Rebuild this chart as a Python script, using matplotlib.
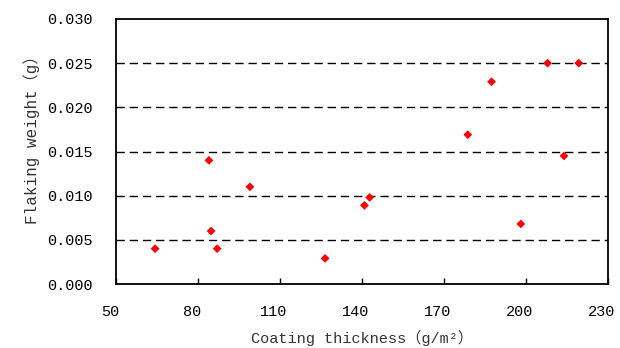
import matplotlib
matplotlib.use("Agg")
import matplotlib.pyplot as plt
import matplotlib.transforms as mtransforms
from matplotlib.ticker import MultipleLocator, FormatStrFormatter

# coating thickness (g/m2) and flaking weight (g)
thickness = [64.3, 84.0, 84.8, 87.0, 99.0, 126.5, 140.9, 142.8,
             178.7, 187.4, 198.1, 207.9, 213.9, 219.3]
flaking = [0.0040, 0.0140, 0.0060, 0.0040, 0.0110, 0.0029, 0.0089, 0.0098,
           0.0169, 0.0229, 0.0068, 0.0250, 0.0145, 0.0250]
x_ticks = [50, 80, 110, 140, 170, 200, 230]
grid_levels = [0.005, 0.010, 0.015, 0.020, 0.025]

plt.rcParams['font.family'] = ['Liberation Mono', 'Noto Sans CJK SC', 'DejaVu Sans']

fig = plt.figure(figsize=(6.2, 3.48), dpi=100)
ax = fig.add_axes([116 / 620, 1 - 284 / 348, 492 / 620, 265 / 348])

for lv in grid_levels:
    ax.axhline(lv, color='black', lw=1.0, ls=(0, (6, 3.5)), zorder=1)

ax.scatter(thickness, flaking, marker='D', s=20, color='red', edgecolors='none', zorder=3)

ax.set_xlim(50, 230)
ax.set_ylim(0, 0.030)
ax.set_xticks(x_ticks)
ax.yaxis.set_major_locator(MultipleLocator(0.005))
ax.yaxis.set_major_formatter(FormatStrFormatter('%.3f'))
ax.tick_params(direction='in', length=4, width=1, labelsize=11, colors='black')
ax.tick_params(axis='x', pad=15)
ax.tick_params(axis='y', length=0, pad=17)
for sp in ax.spines.values():
    sp.set_linewidth(1.3)

# shift x tick labels slightly left like the original
shift = mtransforms.ScaledTranslation(-6 / 100, 0, fig.dpi_scale_trans)
for lab in ax.get_xticklabels():
    lab.set_transform(lab.get_transform() + shift)

ax.set_xlabel('Coating thickness（g/m²）', fontsize=11, color='#333333', labelpad=8)
ax.set_ylabel('Flaking weight（g）', fontsize=11.5, color='#333333', labelpad=5, y=0.56)

fig.savefig('out.png', dpi=100)
